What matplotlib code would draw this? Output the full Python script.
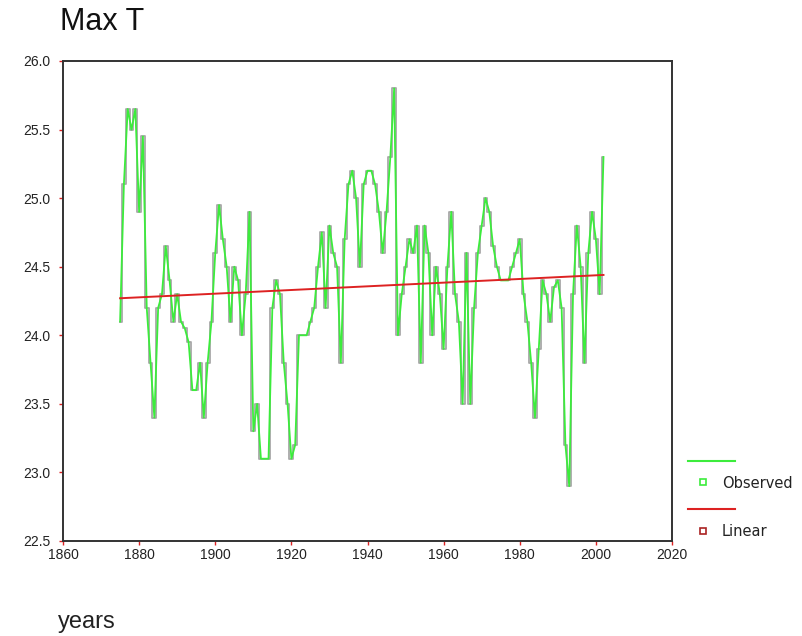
import numpy as np
import matplotlib
matplotlib.use("Agg")
import matplotlib.pyplot as plt
from matplotlib.lines import Line2D

# ---- data ----
years = list(range(1875, 2003))
max_t = [
    24.1, 25.1, 25.65, 25.5, 25.65, 24.9, 25.45, 24.2, 23.8, 23.4,   # 1875-1884
    24.2, 24.3, 24.65, 24.4, 24.1, 24.3, 24.1, 24.05, 23.95, 23.6,   # 1885-1894
    23.6, 23.8, 23.4, 23.8, 24.1, 24.6, 24.95, 24.7, 24.5, 24.1,     # 1895-1904
    24.5, 24.4, 24.0, 24.3, 24.9, 23.3, 23.5, 23.1, 23.1, 23.1,      # 1905-1914
    24.2, 24.4, 24.3, 23.8, 23.5, 23.1, 23.2, 24.0, 24.0, 24.0,      # 1915-1924
    24.1, 24.2, 24.5, 24.75, 24.2, 24.8, 24.6, 24.5, 23.8, 24.7,     # 1925-1934
    25.1, 25.2, 25.0, 24.5, 25.1, 25.2, 25.2, 25.1, 24.9, 24.6,      # 1935-1944
    24.9, 25.3, 25.8, 24.0, 24.3, 24.5, 24.7, 24.6, 24.8, 23.8,      # 1945-1954
    24.8, 24.6, 24.0, 24.5, 24.3, 23.9, 24.5, 24.9, 24.3, 24.1,      # 1955-1964
    23.5, 24.6, 23.5, 24.2, 24.6, 24.8, 25.0, 24.9, 24.65, 24.5,     # 1965-1974
    24.4, 24.4, 24.4, 24.5, 24.6, 24.7, 24.3, 24.1, 23.8, 23.4,      # 1975-1984
    23.9, 24.4, 24.3, 24.1, 24.35, 24.4, 24.2, 23.2, 22.9, 24.3,     # 1985-1994
    24.8, 24.5, 23.8, 24.6, 24.9, 24.7, 24.3, 25.3,                  # 1995-2002
]
linear_years = [1875, 2002]
linear_vals = [24.27, 24.44]

x_ticks = [1860, 1880, 1900, 1920, 1940, 1960, 1980, 2000, 2020]
y_ticks = [22.5, 23.0, 23.5, 24.0, 24.5, 25.0, 25.5, 26.0]

# ---- figure ----
fig = plt.figure(figsize=(8.03, 6.36), dpi=100)
ax = fig.add_axes([63 / 803, 1 - 541 / 636, (672 - 63) / 803, (541 - 61) / 636])

green = "#3cec3c"
ax.plot(years, max_t, color="#a8a8a8", lw=1.3, drawstyle="steps-mid", zorder=2)
ax.plot(years, max_t, color=green, lw=1.3, zorder=3)
ax.plot(linear_years, linear_vals, color="#dd2222", lw=1.4, zorder=4)

ax.set_xlim(1860, 2020)
ax.set_ylim(22.5, 26.0)
ax.set_xticks(x_ticks)
ax.set_yticks(y_ticks)
ax.set_yticklabels([f"{v:.1f}" for v in y_ticks])
ax.tick_params(axis="both", direction="out", length=3, width=1, color="#dd2222",
               labelsize=10, labelcolor="#222222")
ax.tick_params(axis="x", pad=2)
ax.tick_params(axis="y", pad=6)
for lab in ax.get_xticklabels() + ax.get_yticklabels():
    lab.set_family("Liberation Sans")
for sp in ax.spines.values():
    sp.set_color("#333333")
    sp.set_linewidth(1.4)

fig.text(60 / 803, 1 - 22 / 636, "Max T", fontsize=22, family="Liberation Sans",
         ha="left", va="center", color="#111111")
fig.text(58 / 803, 1 - 622 / 636, "years", fontsize=17, family="Liberation Sans",
         ha="left", va="center", color="#222222")

# ---- legend (outside, right) ----
def fx(px):
    return px / 803

def fy(py):
    return 1 - py / 636

fig.add_artist(Line2D([fx(688), fx(735)], [fy(461), fy(461)], color=green, lw=1.5))
fig.add_artist(Line2D([fx(703)], [fy(482)], marker="s", ms=5, mfc="none", mec=green,
                      mew=1.2, lw=0))
fig.text(fx(722), fy(483), "Observed", fontsize=10.5, family="DejaVu Sans",
         ha="left", va="center", color="#222222")
fig.add_artist(Line2D([fx(688), fx(735)], [fy(509), fy(509)], color="#dd2222", lw=1.5))
fig.add_artist(Line2D([fx(703)], [fy(531)], marker="s", ms=5, mfc="none", mec="#aa2222",
                      mew=1.2, lw=0))
fig.text(fx(722), fy(532), "Linear", fontsize=10.5, family="DejaVu Sans",
         ha="left", va="center", color="#222222")

fig.savefig("out.png", dpi=100)
